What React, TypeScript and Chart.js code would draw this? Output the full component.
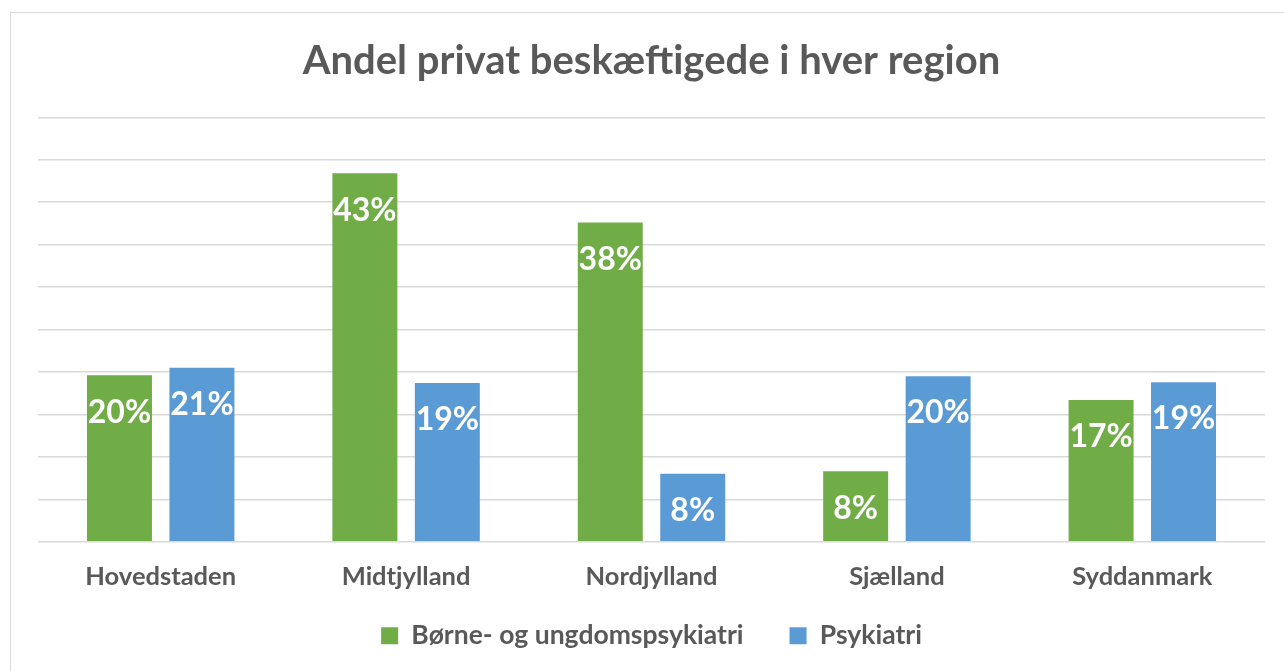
import React, { useEffect, useRef } from "react";
import { Chart, registerables } from "chart.js";

Chart.register(...registerables);

const categories = ["Hovedstaden", "Midtjylland", "Nordjylland", "Sjælland", "Syddanmark"];
const boerneValues = [19.6, 43.4, 37.6, 8.3, 16.7];
const psykValues = [20.5, 18.7, 8.0, 19.5, 18.8];
const seriesNames = ["Børne- og ungdomspsykiatri", "Psykiatri"];
const titleText = "Andel privat beskæftigede i hver region";

const GREEN = "#70AD47";
const BLUE = "#5B9BD5";
const GRAY = "#595959";
const FONT = "Lato, 'Open Sans', sans-serif";

const barLabelPlugin = {
  id: "barLabels",
  afterLayout(chart: any) {
    // let the category labels extend below the axis box without being clipped
    const x = chart.scales.x;
    if (x) x.bottom = x.top + 80;
  },
  afterDatasetsDraw(chart: any) {
    const ctx = chart.ctx;
    ctx.save();
    ctx.fillStyle = "#ffffff";
    ctx.font = `bold 32px ${FONT}`;
    ctx.textAlign = "center";
    ctx.textBaseline = "middle";
    chart.data.datasets.forEach((ds: any, di: number) => {
      const meta = chart.getDatasetMeta(di);
      meta.data.forEach((bar: any, i: number) => {
        const v = ds.data[i];
        ctx.fillText(`${Math.round(v)}%`, bar.x, bar.y + 37);
      });
    });
    ctx.restore();
  },
};

export default function App() {
  const ref = useRef<HTMLCanvasElement | null>(null);
  useEffect(() => {
    if (!ref.current) return;
    const chart = new Chart(ref.current, {
      type: "bar",
      data: {
        labels: categories,
        datasets: [
          { label: seriesNames[0], data: boerneValues, backgroundColor: GREEN, categoryPercentage: 0.672, barPercentage: 0.788 },
          { label: seriesNames[1], data: psykValues, backgroundColor: BLUE, categoryPercentage: 0.672, barPercentage: 0.788 },
        ],
      },
      options: {
        animation: false,
        responsive: true,
        maintainAspectRatio: false,
        layout: { padding: { left: 38, right: 19, top: 0, bottom: 12 } },
        plugins: {
          title: {
            display: true,
            text: titleText,
            color: GRAY,
            font: { family: FONT, size: 40, weight: "bold", lineHeight: 1.2 },
            padding: { top: 36.7, bottom: 32.6 },
          },
          legend: {
            display: true,
            position: "bottom",
            labels: {
              color: GRAY,
              font: { family: FONT, size: 26.5, weight: "bold" },
              boxWidth: 17,
              boxHeight: 17,
              padding: 46,
            },
          },
          tooltip: { enabled: false },
        },
        scales: {
          x: {
            grid: { display: false },
            border: { display: false },
            ticks: { color: GRAY, font: { family: FONT, size: 25.5, weight: "bold" }, padding: 12 },
            afterFit: (s: any) => { s.height = 34.8; },
          },
          y: {
            min: 0,
            max: 50,
            ticks: { display: false, stepSize: 5 },
            grid: { color: "#d9d9d9", lineWidth: 1.5, drawTicks: false },
            border: { display: false },
            afterFit: (s: any) => { s.width = 0; },
          },
        },
      },
      plugins: [barLabelPlugin],
    });
    return () => chart.destroy();
  }, []);
  return (
    <div style={{ position: "fixed", left: 0, top: 0, width: 1284, height: 671, background: "#fff" }}>
      <div style={{ position: "absolute", left: 10, top: 12, width: 1300, height: 700, borderLeft: "1.5px solid #d9d9d9", borderTop: "1.5px solid #d9d9d9" }} />
      <div style={{ position: "absolute", left: 0, top: 0, width: 1284, height: 671 }}>
        <canvas ref={ref} />
      </div>
    </div>
  );
}
